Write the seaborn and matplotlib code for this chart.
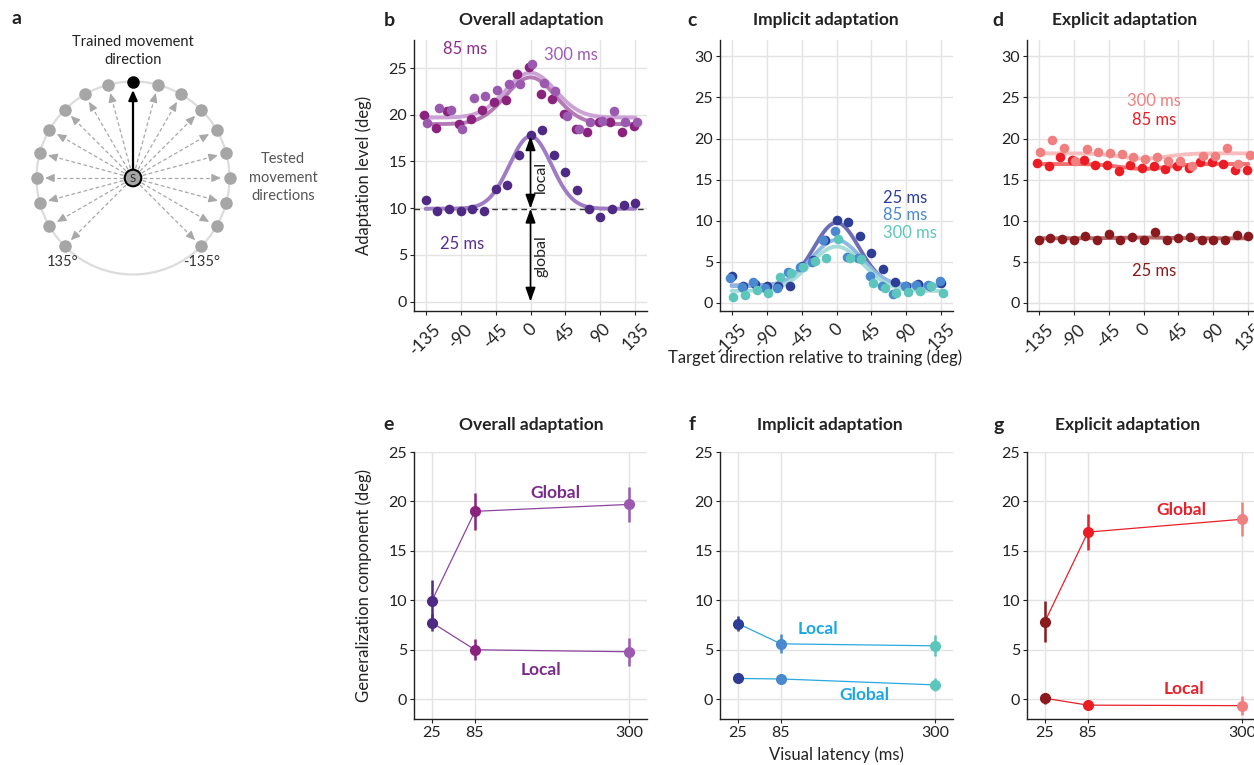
import numpy as np
import seaborn as sns
import matplotlib.pyplot as plt

sns.set_theme(style="white")
plt.rcParams["font.family"] = ["Lato", "DejaVu Sans"]
plt.rcParams["axes.unicode_minus"] = False

# ------------------------------------------------------------------
# data
# ------------------------------------------------------------------
directions = [-135, -120, -105, -90, -75, -60, -45, -30, -15, 0,
              15, 30, 45, 60, 75, 90, 105, 120, 135]
dir_labels = ["-135", "-90", "-45", "0", "45", "90", "135"]
latencies = [25, 85, 300]
latency_names = ["25 ms", "85 ms", "300 ms"]

# adaptation level per target direction (deg)
overall_25 = [10.85, 9.65, 9.95, 9.65, 9.95, 9.7, 12.1, 12.5, 15.7, 17.8,
              18.35, 15.7, 13.9, 12.0, 9.95, 9.1, 9.95, 10.35, 10.55]
overall_85 = [20.0, 18.6, 20.4, 19.0, 19.5, 20.5, 21.4, 21.6, 24.4, 25.1,
              22.2, 21.7, 20.1, 18.5, 18.2, 19.2, 19.2, 18.2, 18.8]
overall_300 = [19.1, 20.7, 20.5, 18.5, 21.8, 22.0, 22.6, 23.3, 23.3, 25.4,
               23.4, 22.5, 19.9, 18.5, 19.2, 19.3, 20.4, 19.2, 19.2]

implicit_25 = [3.3, 2.0, 2.3, 2.1, 2.1, 2.0, 4.5, 5.2, 7.6, 10.1,
               9.8, 8.1, 6.1, 4.1, 2.5, 2.1, 2.3, 2.0, 2.4]
implicit_85 = [3.0, 1.9, 2.5, 1.8, 1.8, 3.7, 4.4, 5.0, 7.7, 8.7,
               5.6, 5.4, 3.3, 2.0, 1.1, 2.1, 2.2, 2.2, 2.6]
implicit_300 = [0.7, 0.9, 1.5, 1.2, 3.1, 3.6, 4.3, 5.1, 5.5, 7.8,
                5.5, 5.3, 2.4, 1.8, 1.2, 1.3, 1.4, 2.1, 1.2]

explicit_25 = [7.6, 7.9, 7.8, 7.65, 8.1, 7.7, 8.4, 7.65, 8.05, 7.65,
               8.65, 7.65, 7.9, 8.0, 7.6, 7.7, 7.7, 8.2, 8.1]
explicit_85 = [17.0, 16.6, 17.8, 17.4, 17.4, 16.8, 16.8, 16.0, 16.8, 16.4,
               16.6, 16.3, 16.6, 16.4, 17.1, 17.1, 16.9, 16.2, 16.2]
explicit_300 = [18.4, 19.8, 18.9, 17.3, 18.7, 18.4, 18.3, 18.1, 17.8, 17.5,
                17.8, 17.3, 17.3, 16.6, 17.9, 17.9, 18.9, 16.9, 18.0]

# generalization components (global + local gaussian), mean and error
overall_global = [9.95, 19.0, 19.7]
overall_global_err = [2.1, 1.9, 1.8]
overall_local = [7.75, 5.0, 4.8]
overall_local_err = [0.9, 1.05, 1.4]
overall_width = [27, 32, 32]

implicit_global = [2.1, 2.05, 1.45]
implicit_global_err = [0.3, 0.35, 0.65]
implicit_local = [7.65, 5.6, 5.4]
implicit_local_err = [0.75, 0.95, 1.05]
implicit_width = [29, 32, 34]

explicit_global = [7.85, 16.9, 18.2]
explicit_global_err = [2.1, 1.85, 1.7]
explicit_local = [0.1, -0.6, -0.65]
explicit_local_err = [0.55, 0.25, 0.95]
explicit_width = [30, 30, 30]

# ------------------------------------------------------------------
# colours
# ------------------------------------------------------------------
purple_dots = ["#4E2A84", "#8B237E", "#9B5AB0"]
purple_fits = ["#A07CC5", "#B47AB5", "#CBA3D6"]
blue_dots = ["#2E3D96", "#4A88CF", "#5CC6BC"]
blue_fits = ["#6E6EB8", "#8FB8E3", "#A6DDD8"]
red_dots = ["#8A1A1E", "#EC1C24", "#F08080"]
red_fits = ["#B06A6A", "#F07070", "#F8BDBD"]
dot_offset = [0, -2, 2]

W, H = 1254, 765
fig = plt.figure(figsize=(W / 100, H / 100), dpi=100)


def px_axes(left, top, right, bottom):
    return fig.add_axes([left / W, 1 - bottom / H, (right - left) / W, (bottom - top) / H])


def fig_text(x, y, s, **kw):
    fig.text(x / W, 1 - y / H, s, **kw)


def style_axes(ax, yticks, ylim):
    ax.set_ylim(*ylim)
    ax.set_yticks(yticks)
    ax.grid(True, color="#E3E3E3", lw=1)
    ax.set_axisbelow(True)
    for s in ["top", "right"]:
        ax.spines[s].set_visible(False)
    for s in ["left", "bottom"]:
        ax.spines[s].set_color("#222222")
        ax.spines[s].set_linewidth(1)
    ax.tick_params(labelsize=11.5, colors="#222222", length=3, width=0.8,
                   direction="out", pad=2, left=True, bottom=True)


def gaussian_fit(x, g, l, w):
    return g + l * np.exp(-np.asarray(x) ** 2 / (2 * w ** 2))


# ------------------------------------------------------------------
# panel a : schematic
# ------------------------------------------------------------------
ax_a = px_axes(0, 0, 330, 310)
ax_a.set_xlim(0, 330)
ax_a.set_ylim(310, 0)
ax_a.axis("off")
cx, cy, r = 133, 178, 96.5
ax_a.add_patch(plt.Circle((cx, cy), r, fill=False, color="#DCDCDC", lw=1.6))
for d in directions:
    t = np.deg2rad(d)
    ux, uy = -np.sin(t), -np.cos(t)
    trained = d == 0
    col = "black" if trained else "#A6A6A6"
    ax_a.plot(cx + r * ux, cy + r * uy, "o", ms=8, color=col, zorder=3)
    if trained:
        ax_a.annotate("", xy=(cx + 88 * ux, cy + 88 * uy), xytext=(cx + 8 * ux, cy + 8 * uy),
                      arrowprops=dict(arrowstyle="-|>,head_length=0.5,head_width=0.22",
                                      color="black", lw=1.6, shrinkA=0, shrinkB=0))
    else:
        ax_a.plot([cx + 10 * ux, cx + 82 * ux], [cy + 10 * uy, cy + 82 * uy],
                  color="#A8A8A8", lw=0.9, ls=(0, (3, 2)))
        ax_a.annotate("", xy=(cx + 88 * ux, cy + 88 * uy), xytext=(cx + 80 * ux, cy + 80 * uy),
                      arrowprops=dict(arrowstyle="-|>,head_length=0.45,head_width=0.2",
                                      color="#A8A8A8", lw=0.9, shrinkA=0, shrinkB=0))
ax_a.add_patch(plt.Circle((cx, cy), 8.3, facecolor="#A6A6A6", edgecolor="black", lw=1.5, zorder=4))
ax_a.text(cx, cy + 0.5, "S", ha="center", va="center", fontsize=8, zorder=5)
ax_a.text(cx, 42, "Trained movement", ha="center", va="center", fontsize=10.5, color="#222222")
ax_a.text(cx, 60, "direction", ha="center", va="center", fontsize=10.5, color="#222222")
for i, w in enumerate(["Tested", "movement", "directions"]):
    ax_a.text(283, 159 + 18.5 * i, w, ha="center", va="center", fontsize=10.5, color="#555555")
ax_a.text(63, 262, "135°", ha="center", va="center", fontsize=10.5, color="#333333")
ax_a.text(202, 262, "-135°", ha="center", va="center", fontsize=10.5, color="#333333")

# ------------------------------------------------------------------
# panels b-d : generalization curves
# ------------------------------------------------------------------
top_panels = [
    (414, [overall_25, overall_85, overall_300], purple_dots, purple_fits,
     overall_global, overall_local, overall_width, [0, 5, 10, 15, 20, 25], (-1, 28)),
    (720, [implicit_25, implicit_85, implicit_300], blue_dots, blue_fits,
     implicit_global, implicit_local, implicit_width, [0, 5, 10, 15, 20, 25, 30], (-1, 32)),
    (1027, [explicit_25, explicit_85, explicit_300], red_dots, red_fits,
     explicit_global, explicit_local, explicit_width, [0, 5, 10, 15, 20, 25, 30], (-1, 32)),
]
xs = np.linspace(-135, 135, 271)
top_axes = []
for left, sets, dcols, fcols, g, l, w, yt, yl in top_panels:
    ax = px_axes(left, 40, left + 233, 311)
    for i in range(3):
        sns.lineplot(x=xs, y=gaussian_fit(xs, g[i], l[i], w[i]), color=fcols[i], lw=2.8,
                     ax=ax, estimator=None, zorder=2)
    for i in range(3):
        sns.scatterplot(x=np.array(directions) + dot_offset[i], y=sets[i], color=dcols[i],
                        s=48, linewidth=0, ax=ax, zorder=3)
    ax.set_xlim(-150, 150)
    ax.set_xticks([-135, -90, -45, 0, 45, 90, 135])
    style_axes(ax, yt, yl)
    ax.set_xticklabels(dir_labels, rotation=45, ha="center", va="top", fontsize=12.5)
    ax.tick_params(axis="x", pad=4)
    top_axes.append(ax)

ax_b, ax_c, ax_d = top_axes
ax_b.set_ylabel("Adaptation level (deg)", fontsize=12, color="#222222")
ax_b.yaxis.set_label_coords(-0.18, 0.5)

# annotations panel b
ax_b.axhline(overall_global[0], color="#333333", lw=1, ls=(0, (4, 3)), zorder=1)
arrow = dict(arrowstyle="<|-|>,head_length=0.7,head_width=0.25", color="black", lw=1.2,
             shrinkA=0, shrinkB=0)
ax_b.annotate("", xy=(0, overall_global[0] + overall_local[0]), xytext=(0, overall_global[0]),
              arrowprops=arrow, zorder=4)
ax_b.annotate("", xy=(0, overall_global[0]), xytext=(0, 0), arrowprops=arrow, zorder=4)
ax_b.text(14, 13.3, "local", rotation=90, ha="center", va="center", fontsize=11.5, color="#222222")
ax_b.text(14, 4.9, "global", rotation=90, ha="center", va="center", fontsize=11.5, color="#222222")
ax_b.text(-84, 27.0, latency_names[1], ha="center", va="center", fontsize=12, color="#8E2C8E")
ax_b.text(52, 26.4, latency_names[2], ha="center", va="center", fontsize=12, color="#A05AB5")
ax_b.text(-88, 6.2, latency_names[0], ha="center", va="center", fontsize=12, color="#5A2D91")

for i, (yy, col) in enumerate(zip([12.8, 10.7, 8.5], blue_dots)):
    ax_c.text(60, yy, latency_names[i], ha="left", va="center", fontsize=12, color=col)

ax_d.text(14, 24.6, latency_names[2], ha="center", va="center", fontsize=12, color="#F08080")
ax_d.text(14, 22.2, latency_names[1], ha="center", va="center", fontsize=12, color="#EC1C24")
ax_d.text(14, 3.9, latency_names[0], ha="center", va="center", fontsize=12, color="#8A1A1E")

# ------------------------------------------------------------------
# panels e-g : global / local components
# ------------------------------------------------------------------
bottom_panels = [
    (414, purple_dots, "#8E44A0", "#7B2A8C",
     overall_global, overall_global_err, overall_local, overall_local_err,
     (197, 20.85), (177, 3.0)),
    (720, blue_dots, "#29A9E1", "#1BA8E2",
     implicit_global, implicit_global_err, implicit_local, implicit_local_err,
     (202, 0.4), (137, 7.1)),
    (1027, red_dots, "#E8202A", "#E8202A",
     explicit_global, explicit_global_err, explicit_local, explicit_local_err,
     (215, 19.1), (219, 1.0)),
]
bottom_axes = []
for left, dcols, lcol, tcol, gm, ge, lm, le, gpos, lpos in bottom_panels:
    ax = px_axes(left, 452, left + 233, 719)
    for m, e in [(gm, ge), (lm, le)]:
        sns.lineplot(x=latencies, y=m, color=lcol, lw=0.9, ax=ax, estimator=None, zorder=2)
        for i in range(3):
            ax.errorbar(latencies[i], m[i], yerr=e[i], fmt="o", color=dcols[i], ms=7,
                        elinewidth=1.8, capsize=0, zorder=3)
    ax.text(*gpos, "Global", ha="center", va="center", fontsize=12.5, fontweight="bold", color=tcol)
    ax.text(*lpos, "Local", ha="center", va="center", fontsize=12.5, fontweight="bold", color=tcol)
    ax.set_xlim(0, 325)
    ax.set_xticks(latencies)
    style_axes(ax, [0, 5, 10, 15, 20, 25], (-2, 25))
    bottom_axes.append(ax)

ax_e = bottom_axes[0]
ax_e.set_ylabel("Generalization component (deg)", fontsize=12, color="#222222")
ax_e.yaxis.set_label_coords(-0.18, 0.5)

# ------------------------------------------------------------------
# titles, panel letters, shared x labels
# ------------------------------------------------------------------
titles = [(531, 20, "Overall adaptation"), (826, 20, "Implicit adaptation"),
          (1125, 20, "Explicit adaptation"), (531, 425, "Overall adaptation"),
          (830, 425, "Implicit adaptation"), (1128, 425, "Explicit adaptation")]
for x, y, t in titles:
    fig_text(x, y, t, ha="center", va="center", fontsize=12.5, fontweight="bold", color="#222222")

letters = [(17, 19, "a"), (389, 20, "b"), (692, 21, "c"), (998, 20, "d"),
           (389, 425, "e"), (692, 424, "f"), (999, 425, "g")]
for x, y, t in letters:
    fig_text(x, y, t, ha="center", va="center", fontsize=14, fontweight="bold", color="#222222")

fig_text(815, 358, "Target direction relative to training (deg)", ha="center", va="center",
         fontsize=12, color="#222222")
fig_text(836, 755, "Visual latency (ms)", ha="center", va="center", fontsize=12, color="#222222")

fig.savefig("out.png", dpi=100)
